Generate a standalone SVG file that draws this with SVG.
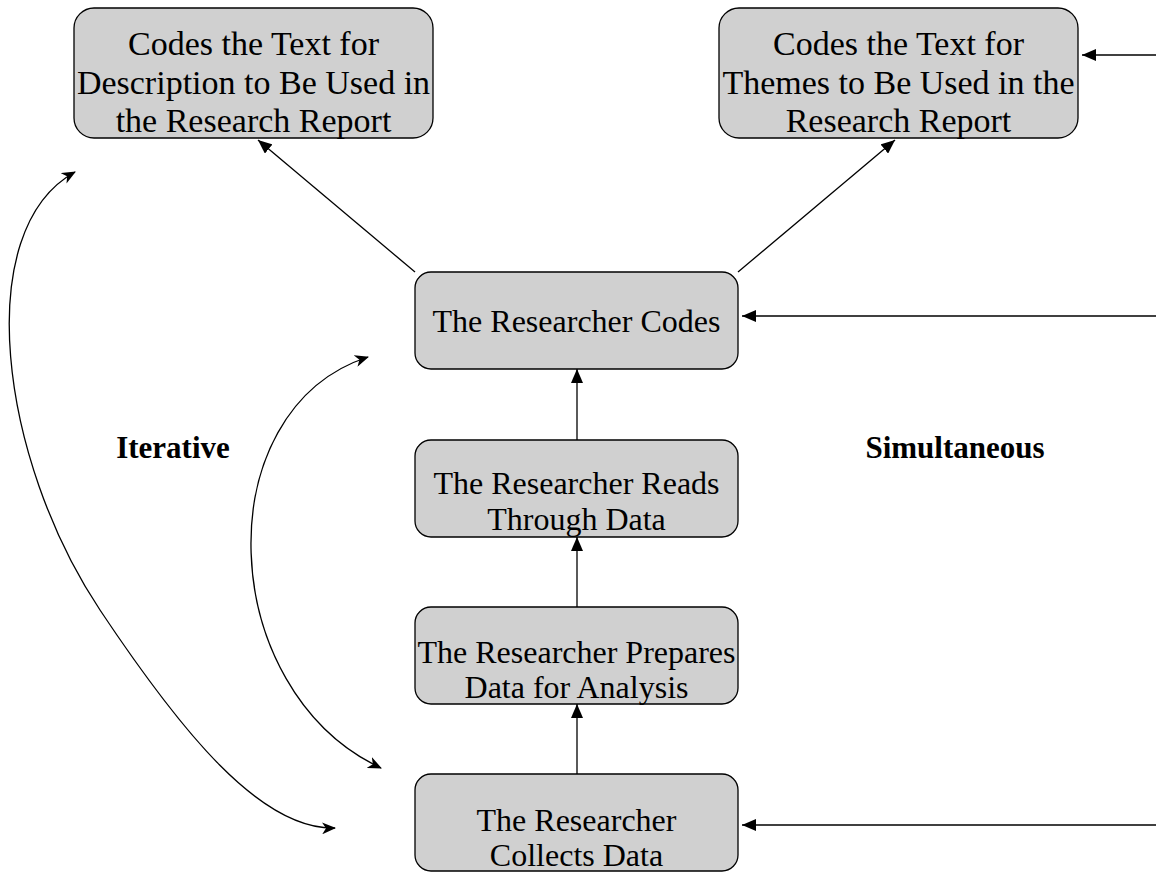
<svg xmlns="http://www.w3.org/2000/svg" width="1156" height="873" viewBox="0 0 1156 873">
  <style>
    .box { fill: #d0d0d0; stroke: #000; stroke-width: 1.3; }
    .lbl { font-family: "Liberation Serif", "Times New Roman", serif; font-size: 32px; fill: #000; text-anchor: middle; }
    .big { font-size: 34px; }
    .side { font-family: "Liberation Serif", "Times New Roman", serif; font-size: 31px; font-weight: bold; fill: #000; text-anchor: middle; }
    .con { fill: none; stroke: #000; stroke-width: 1.3; }
  </style>
  <defs>
    <marker id="tri" viewBox="0 0 14 12" refX="14" refY="6" markerWidth="14" markerHeight="12" markerUnits="userSpaceOnUse" orient="auto">
      <path d="M0,0 L14,6 L0,12 Z" fill="#000"/>
    </marker>
    <marker id="open" viewBox="0 0 14 12" refX="13" refY="6" markerWidth="14" markerHeight="12" markerUnits="userSpaceOnUse" orient="auto-start-reverse">
      <path d="M0,0 L14,6 L0,12 L4,6 Z" fill="#000"/>
    </marker>
  </defs>

  <!-- connectors -->
  <g id="connectors">
    <line class="con" x1="415" y1="272" x2="258" y2="140" marker-end="url(#tri)"/>
    <line class="con" x1="738" y1="272" x2="895" y2="140" marker-end="url(#tri)"/>
    <line class="con" x1="577" y1="440" x2="577" y2="369" marker-end="url(#tri)"/>
    <line class="con" x1="577" y1="607" x2="577" y2="537" marker-end="url(#tri)"/>
    <line class="con" x1="577" y1="774" x2="577" y2="704" marker-end="url(#tri)"/>
    <line class="con" x1="1156" y1="55" x2="1082" y2="55" marker-end="url(#tri)"/>
    <line class="con" x1="1156" y1="316" x2="742" y2="316" marker-end="url(#tri)"/>
    <line class="con" x1="1156" y1="825" x2="742" y2="825" marker-end="url(#tri)"/>
    <!-- iterative loops -->
    <path class="con" d="M75,172 C-30,230 0,460 100,610 C180,730 260,830 335,828" marker-start="url(#open)" marker-end="url(#open)"/>
    <path class="con" d="M368,357 C205,410 215,690 381,768" marker-start="url(#open)" marker-end="url(#open)"/>
  </g>

  <g id="node-describe">
    <rect class="box" x="74" y="8" width="359" height="130" rx="20"/>
    <text class="lbl big" x="253.5" y="55">Codes the Text for</text>
    <text class="lbl big" x="253.5" y="94">Description to Be Used in</text>
    <text class="lbl big" x="253.5" y="132">the Research Report</text>
  </g>

  <g id="node-themes">
    <rect class="box" x="719" y="8" width="359" height="130" rx="20"/>
    <text class="lbl big" x="898.5" y="55">Codes the Text for</text>
    <text class="lbl big" x="898.5" y="94">Themes to Be Used in the</text>
    <text class="lbl big" x="898.5" y="132">Research Report</text>
  </g>

  <g id="node-codes">
    <rect class="box" x="415" y="272" width="323" height="97" rx="16"/>
    <text class="lbl" x="576.5" y="332">The Researcher Codes</text>
  </g>

  <g id="node-reads">
    <rect class="box" x="415" y="440" width="323" height="97" rx="16"/>
    <text class="lbl" x="576.5" y="494">The Researcher Reads</text>
    <text class="lbl" x="576.5" y="530">Through Data</text>
  </g>

  <g id="node-prepares">
    <rect class="box" x="415" y="607" width="323" height="97" rx="16"/>
    <text class="lbl" x="576.5" y="663">The Researcher Prepares</text>
    <text class="lbl" x="576.5" y="698">Data for Analysis</text>
  </g>

  <g id="node-collects">
    <rect class="box" x="415" y="774" width="323" height="97" rx="16"/>
    <text class="lbl" x="576.5" y="831">The Researcher</text>
    <text class="lbl" x="576.5" y="866">Collects Data</text>
  </g>

  <g id="labels">
    <text class="side" x="173" y="458">Iterative</text>
    <text class="side" x="955" y="458">Simultaneous</text>
  </g>
</svg>
